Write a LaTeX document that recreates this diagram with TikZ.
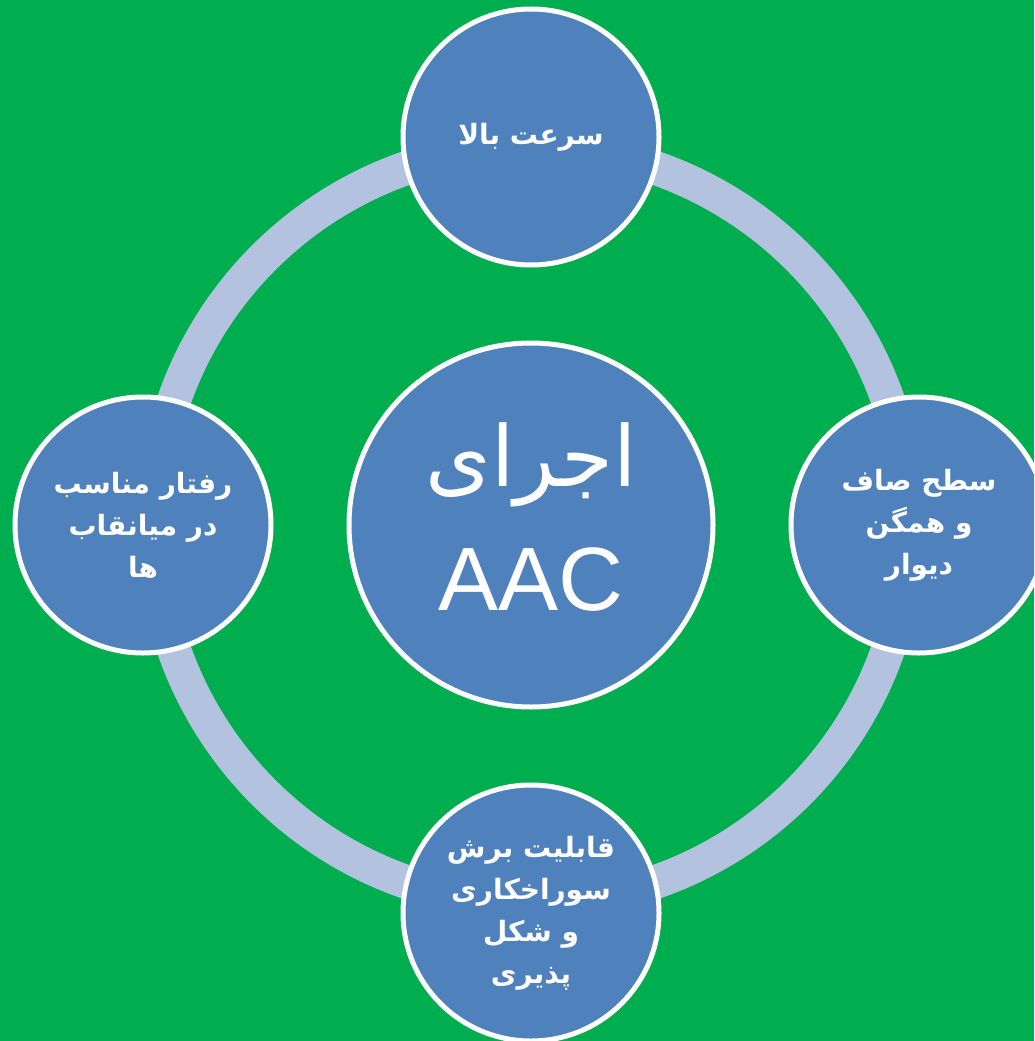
\documentclass[tikz,border=0pt]{standalone}
\usepackage{fontspec}
\setmainfont{Liberation Sans}
\newfontfamily\arabicfont[Script=Arabic]{DejaVu Sans}
\TeXXeTstate=1
\definecolor{bggreen}{RGB}{0,173,79}
\definecolor{nodeblue}{RGB}{79,129,189}
\definecolor{ringblue}{RGB}{179,194,222}
\begin{document}
\begin{tikzpicture}[x=1pt,y=-1pt,
  sat/.style={circle, draw=white, line width=5pt, fill=nodeblue,
    minimum size=256pt, inner sep=0pt, text=white, align=center,
    font=\arabicfont\bfseries\fontsize{28}{42}\selectfont},
  hub/.style={circle, draw=white, line width=5pt, fill=nodeblue,
    minimum size=364pt, inner sep=0pt, text=white, align=center,
    text depth=16pt, font=\fontsize{90}{124}\selectfont},
  ring/.style={draw=ringblue, line width=34pt}]
\useasboundingbox (0,0) rectangle (1034,1041);
\clip (0,0) rectangle (1034,1041);
\fill[bggreen] (0,0) rectangle (1034,1041);
\coordinate (C) at (531,525);
\draw[ring] (C) circle[radius=378];
\node[hub] (hub) at (C) {{\arabicfont\fontsize{84}{124}\selectfont\beginR اجرای\endR}\\AAC};
\node[sat] (top) at (531,137) {\beginR سرعت بالا\endR};
\node[sat] (right) at (919,525) {\beginR سطح صاف\endR\\\beginR و همگن\endR\\\beginR دیوار\endR};
\node[sat] (bottom) at (531,913) {\beginR قابلیت برش\endR\\\beginR سوراخکاری\endR\\\beginR و شکل\endR\\\beginR پذیری\endR};
\node[sat] (left) at (143,525) {\beginR رفتار مناسب\endR\\\beginR در میانقاب\endR\\\beginR ها\endR};
\end{tikzpicture}
\end{document}
